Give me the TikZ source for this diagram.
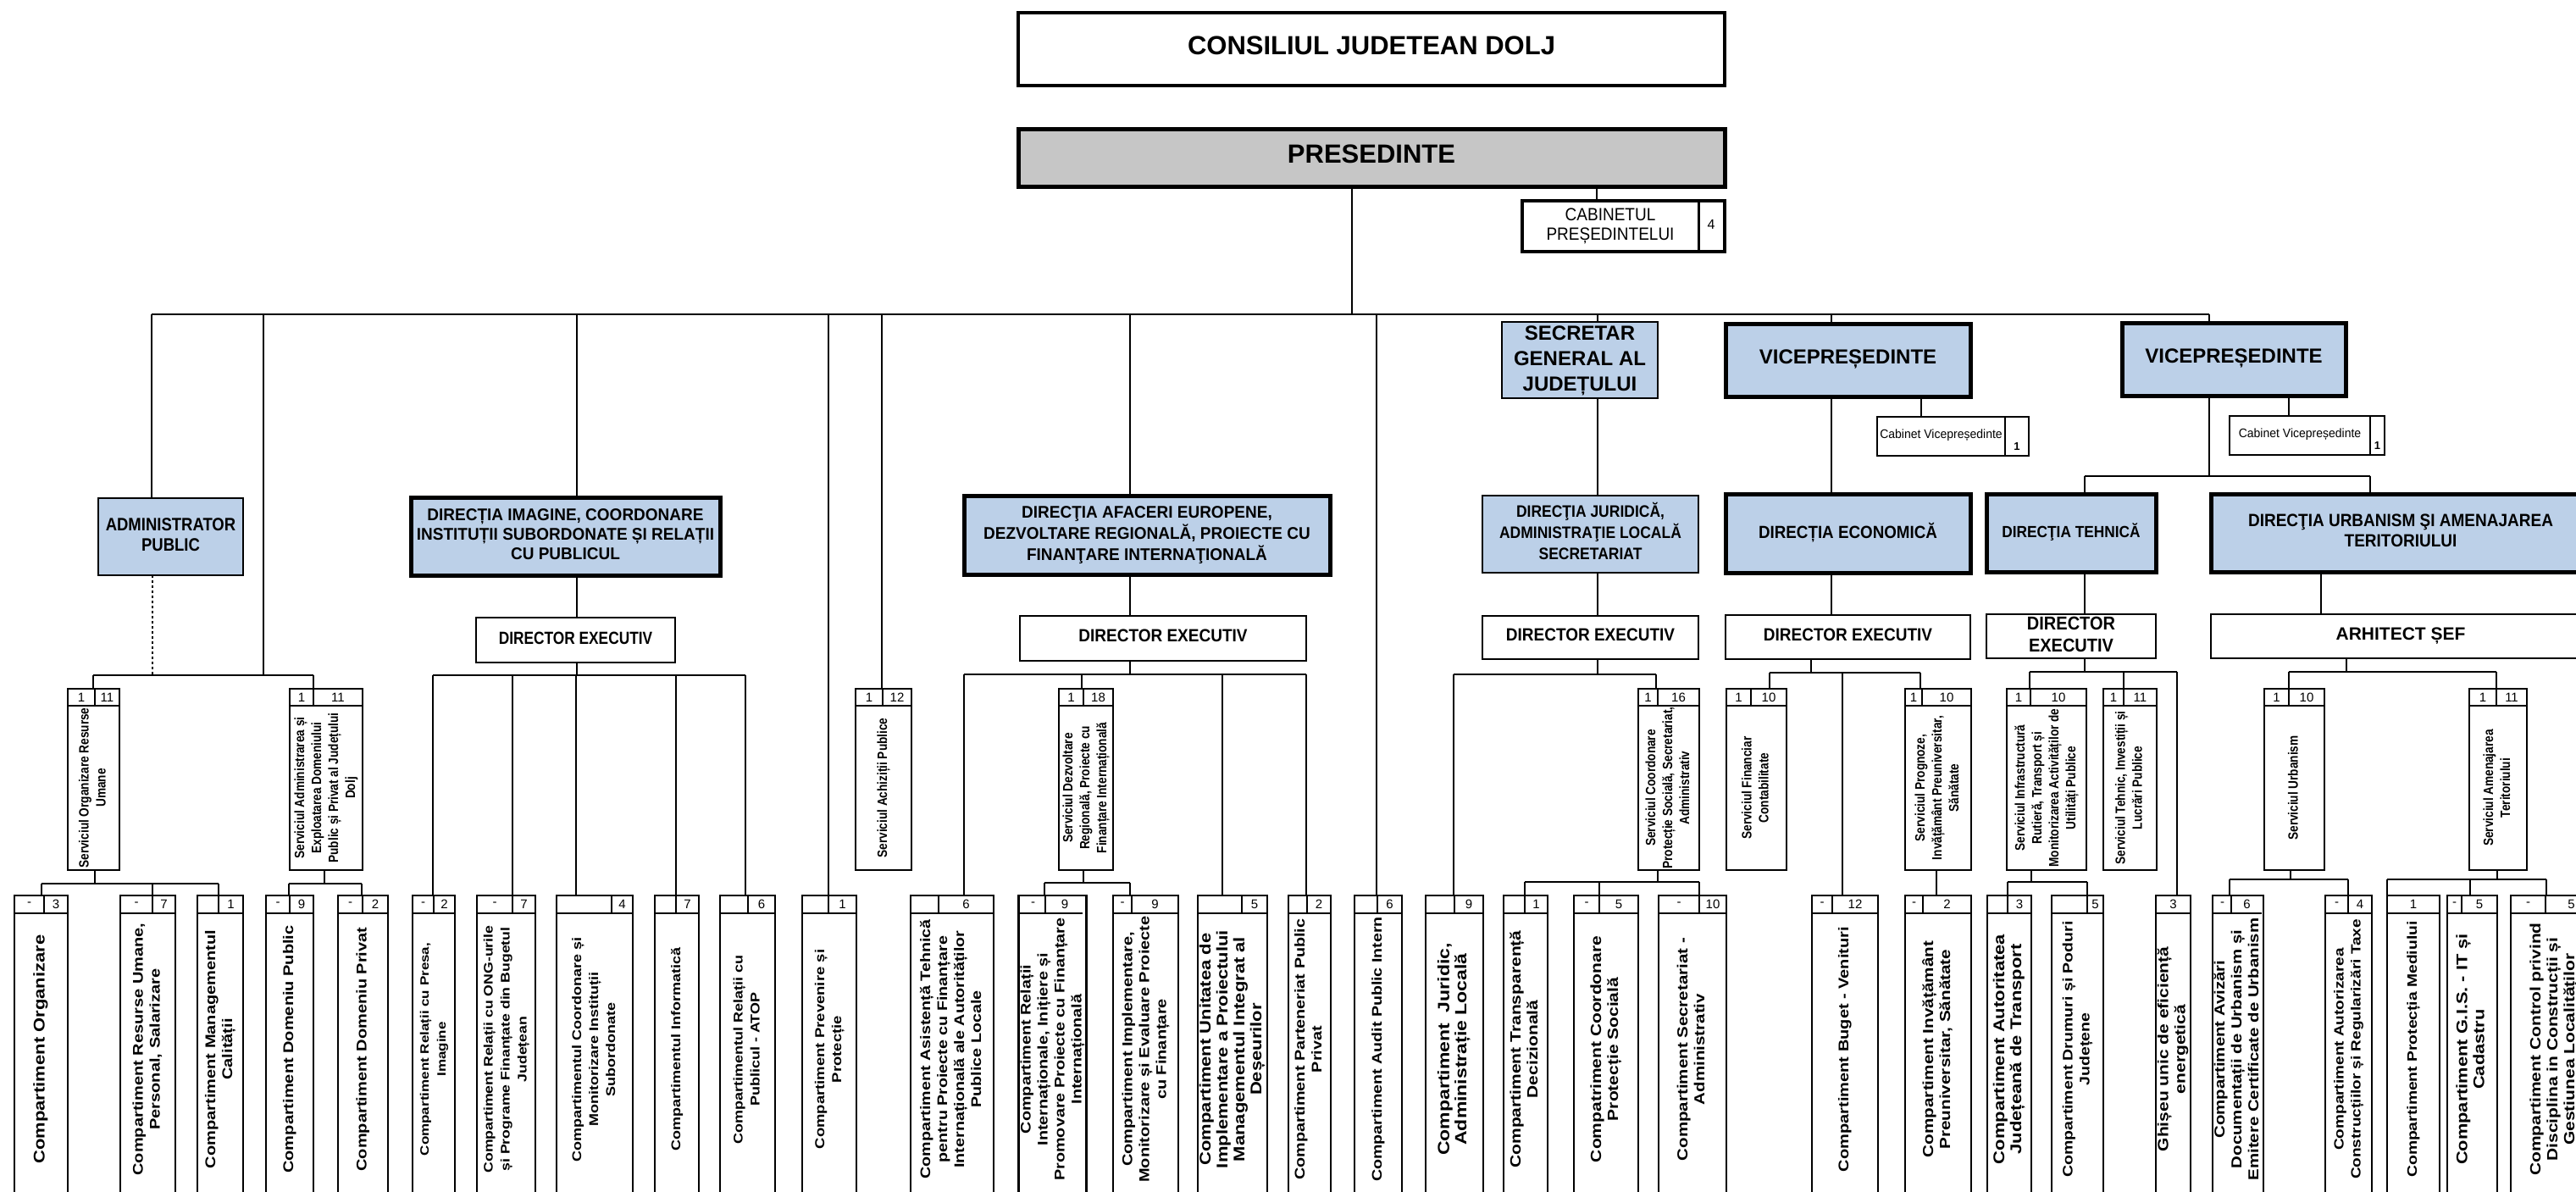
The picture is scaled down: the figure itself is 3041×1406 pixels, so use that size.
\documentclass[tikz,border=0pt]{standalone}
\usepackage{fontspec}
\setmainfont{Liberation Sans}
\usepackage{graphicx}
\definecolor{lblue}{RGB}{188,208,232}
\definecolor{pgray}{RGB}{198,198,198}
% rotated compartment text: font size, text (stretched along its length)
\newcommand\rtx[2]{\rotatebox{90}{\scalebox{1.2}[1]{\fontsize{#1}{20}\selectfont\bfseries\begin{tabular}{@{}c@{}}#2\end{tabular}}}}
% rotated service text (condensed along its length)
\newcommand\stx[1]{\rotatebox{90}{\scalebox{0.85}[1]{\fontsize{16}{20}\selectfont\bfseries\begin{tabular}{@{}c@{}}#1\end{tabular}}}}
% horizontal text: size, skip, vertical stretch, series, text
\newcommand\htx[5]{\scalebox{1}[#3]{\fontsize{#1}{#2}\selectfont#4\begin{tabular}{@{}c@{}}#5\end{tabular}}}
% box by corners: name, x1, y1, x2, y2, style, text
\newcommand\bx[7]{\node[#6, minimum width={(#4-#2)*1pt}, minimum height={(#5-#3)*1pt}] (#1) at ({(#2+#4)/2},{(#3+#5)/2}) {#7};}
% compartment: name, x1, x2, divider x, left, right, font, text
\newcommand\comp[8]{%
  \node[cb, minimum width={(#3-#2)*1pt}, minimum height=363pt] (#1) at ({(#2+#3)/2},1238.5) {\rtx{#7}{#8}};
  \draw[cl] (#1.north west) ++(0,21) -- ++({#3-#2},0);
  \ifx&#4&\node[num] (#1-r) at ({(#2+#3)/2},1067.5) {#6};%
  \else\draw[cl] (#4,1057) -- (#4,1078);
  \node[num] (#1-l) at ({(#2+#4)/2},1067.5) {#5};
  \node[num] (#1-r) at ({(#4+#3)/2},1067.5) {#6};\fi}
% service: name, x1, x2, divider x, left, right, text
\newcommand\serv[7]{%
  \node[cb, minimum width={(#3-#2)*1pt}, minimum height=214pt] (#1) at ({(#2+#3)/2},920) {};
  \draw[cl] (#1.north west) ++(0,20) -- ++({#3-#2},0);
  \draw[cl] (#4,813) -- (#4,833);
  \node[num] (#1-l) at ({(#2+#4)/2},823) {#5};
  \node[num] (#1-r) at ({(#4+#3)/2},823) {#6};
  \node[inner sep=0pt] (#1-t) at ({(#2+#3)/2},930) {\stx{#7}};}
\begin{document}
\begin{tikzpicture}[x=1pt,y=-1pt,
  cl/.style={line width=2pt},
  cb/.style={draw, line width=2.6pt, inner sep=0pt, outer sep=0pt, fill=white},
  tb/.style={draw, line width=5pt, inner sep=0pt, outer sep=0pt, fill=lblue},
  nb/.style={draw, line width=2.6pt, inner sep=0pt, outer sep=0pt, fill=lblue},
  num/.style={inner sep=0pt, font=\fontsize{15}{15}\selectfont}]
\useasboundingbox (0,0) rectangle (3041,1406);
\fill[white] (0,0) rectangle (3041,1406);
\clip (0,0) rectangle (3041,1406);

% ---------- top ----------
\bx{cons}{1202}{15}{2036}{101}{cb, line width=4pt}{\htx{31}{31}{1}{\bfseries}{CONSILIUL JUDETEAN DOLJ}}
\bx{pres}{1202}{152}{2036}{220}{cb, line width=5pt, fill=pgray}{\htx{31}{31}{1}{\bfseries}{PRESEDINTE}}
\bx{cabp}{1797}{237}{2036}{297}{cb, line width=4pt}{}
\draw[line width=3pt] (2005,237) -- (2005,297);
\node[inner sep=0pt] (cabpt) at (1901,267) {\htx{19}{21}{1.1}{\mdseries}{CABINETUL\\PREȘEDINTELUI}};
\node[inner sep=0pt] (cabpn) at (2020,265) {\fontsize{16}{16}\selectfont 4};

% ---------- level 2 ----------
\bx{admin}{116}{588}{287}{679}{nb}{\htx{18.5}{21}{1.15}{\bfseries}{ADMINISTRATOR\\PUBLIC}}
\bx{dimg}{485}{587}{850}{679}{tb}{\htx{19}{22}{1.05}{\bfseries}{DIRECȚIA IMAGINE, COORDONARE\\INSTITUȚII SUBORDONATE ȘI RELAȚII\\CU PUBLICUL}}
\bx{dir1}{562}{729}{797}{782}{cb}{\htx{17.3}{20}{1.2}{\bfseries}{DIRECTOR EXECUTIV}}
\bx{dafa}{1138}{585}{1570}{678}{tb}{\htx{19}{23.5}{1.05}{\bfseries}{DIRECŢIA AFACERI EUROPENE,\\DEZVOLTARE REGIONALĂ, PROIECTE CU\\FINANŢARE INTERNAŢIONALĂ}}
\bx{dir2}{1204}{727}{1542}{780}{cb}{\htx{19}{20}{1.1}{\bfseries}{DIRECTOR EXECUTIV}}
\bx{secr}{1773}{383}{1957}{467}{nb}{\htx{24}{30}{1}{\bfseries}{SECRETAR\\GENERAL AL\\JUDEȚULUI}}
\bx{djur}{1750}{585}{2005}{676}{nb}{\htx{17.5}{22}{1.12}{\bfseries}{DIRECŢIA JURIDICĂ,\\ADMINISTRAŢIE LOCALĂ\\SECRETARIAT}}
\bx{dir3}{1750}{727}{2005}{778}{cb}{\htx{19}{20}{1.1}{\bfseries}{DIRECTOR EXECUTIV}}
\bx{vp1}{2037}{382}{2326}{468}{tb}{\htx{24}{24}{1}{\bfseries}{VICEPREȘEDINTE}}
\bx{cabv1}{2216}{492}{2395}{538}{cb, line width=2.2pt}{}
\draw[line width=2pt] (2367,492) -- (2367,538);
\node[inner sep=0pt] (cabv1t) at (2291.5,514) {\htx{14}{14}{1.05}{\mdseries}{Cabinet Vicepreședinte}};
\node[inner sep=0pt] (cabv1n) at (2381,527) {\fontsize{13}{13}\selectfont\bfseries 1};
\bx{decon}{2037}{583}{2326}{676}{tb}{\htx{18.8}{20}{1.1}{\bfseries}{DIRECȚIA ECONOMICĂ}}
\bx{dir4}{2037}{726}{2326}{778}{cb}{\htx{19}{20}{1.1}{\bfseries}{DIRECTOR EXECUTIV}}
\bx{vp2}{2505}{381}{2769}{467}{tb}{\htx{24}{24}{1}{\bfseries}{VICEPREȘEDINTE}}
\bx{cabv2}{2632}{491}{2815}{537}{cb, line width=2.2pt}{}
\draw[line width=2pt] (2798,491) -- (2798,537);
\node[inner sep=0pt] (cabv2t) at (2715,513) {\htx{14}{14}{1.05}{\mdseries}{Cabinet Vicepreședinte}};
\node[inner sep=0pt] (cabv2n) at (2806.5,526) {\fontsize{13}{13}\selectfont\bfseries 1};
\bx{dteh}{2345}{583}{2545}{675}{tb}{\htx{17.3}{20}{1.1}{\bfseries}{DIRECŢIA TEHNICĂ}}
\bx{durb}{2610}{583}{3058}{675}{tb}{\htx{19}{22}{1.1}{\bfseries}{DIRECŢIA URBANISM ŞI AMENAJAREA\\TERITORIULUI}}
\bx{dir5}{2345}{725}{2545}{777}{cb}{\htx{20}{23.5}{1.1}{\bfseries}{DIRECTOR\\EXECUTIV}}
\bx{arh}{2610}{725}{3058}{777}{cb}{\htx{21}{21}{1}{\bfseries}{ARHITECT ȘEF}}

% ---------- services ----------
\serv{sorg}{80}{141}{112}{1}{11}{Serviciul Organizare Resurse\\Umane}
\serv{sadm}{342}{428}{370}{1}{11}{Serviciul Administrarea și\\Exploatarea Domeniului\\Public și Privat al Județului\\Dolj}
\serv{sach}{1010}{1076}{1042}{1}{12}{Serviciul Achiziții Publice}
\serv{sdez}{1250}{1314}{1279}{1}{18}{Serviciul Dezvoltare\\Regională, Proiecte cu\\Finanțare Internațională}
\serv{scoord}{1934}{2006}{1957}{1}{16}{Serviciul Coordonare\\Protecție Socială, Secretariat,\\Administrativ}
\serv{sfin}{2038}{2109}{2067}{1}{10}{Serviciul Financiar\\Contabilitate}
\serv{sprog}{2249}{2327}{2269}{1}{10}{Serviciul Prognoze,\\Invățământ Preuniversitar,\\Sănătate}
\serv{sinfra}{2369}{2463}{2397}{1}{10}{Serviciul Infrastructură\\Rutieră, Transport și\\Monitorizarea Activităților de\\Utilități Publice}
\serv{steh}{2483}{2546}{2507}{1}{11}{Serviciul Tehnic, Investiții și\\Lucrări Publice}
\serv{surb}{2673}{2744}{2702}{1}{10}{Serviciul Urbanism}
\serv{samen}{2915}{2983}{2947}{1}{11}{Serviciul Amenajarea\\Teritoriului}

% ---------- compartments ----------
\comp{corg}{17}{80}{52}{-}{3}{18.33}{Compartiment Organizare}
\comp{cresum}{142}{207}{180}{-}{7}{16.67}{Compartiment Resurse Umane,\\Personal, Salarizare}
\comp{ccal}{233}{287}{258}{}{1}{16.67}{Compartiment Managementul\\Calității}
\comp{cdpub}{314}{370}{342}{-}{9}{16.67}{Compartiment Domeniu Public}
\comp{cdpriv}{399}{458}{428}{-}{2}{16.67}{Compartiment Domeniu Privat}
\comp{cpresa}{487}{537}{512}{-}{2}{14.17}{Compartiment Relații cu Presa,\\Imagine}
\comp{cong}{563}{632}{605}{-}{7}{14.75}{Compartiment Relații cu ONG-urile\\și Programe Finanțate din Bugetul\\Județean}
\comp{ccoord}{657}{747}{722}{}{4}{15}{Compartimentul Coordonare și\\Monitorizare Instituții\\Subordonate}
\comp{cinfo}{773}{825}{798}{}{7}{15}{Compartimentul Informatică}
\comp{cpubl}{850}{915}{883}{}{6}{15}{Compartimentul Relații cu\\Publicul - ATOP}
\comp{cprev}{947}{1011}{978}{}{1}{15.42}{Compartiment Prevenire și\\Protecție}
\comp{casist}{1075}{1173}{1108}{}{6}{16.42}{Compartiment Asistență Tehnică\\pentru Proiecte cu Finanțare\\Internațională ale Autorităților\\Publice Locale}
\comp{crelint}{1205}{1280}{1234}{-}{9}{16.5}{Compartiment Relații\\Internaționale, Inițiere și\\Promovare Proiecte cu Finanțare\\Internațională}
\comp{cimpl}{1314}{1391}{1336}{-}{9}{16.67}{Compartiment Implementare,\\Monitorizare și Evaluare Proiecte\\cu Finanțare}
\comp{cunit}{1414}{1496}{1466}{}{5}{18.33}{Compartiment Unitatea de\\Implementare a Proiectului\\Managementul Integrat al\\Deșeurilor}
\comp{cppp}{1521}{1571}{1543}{}{2}{16.5}{Compartiment Parteneriat Public\\Privat}
\comp{caudit}{1599}{1655}{1626}{}{6}{16.33}{Compartiment Audit Public Intern}
\comp{cjur}{1683}{1751}{1717}{}{9}{19.17}{Compartiment\ \ Juridic,\\Administrație Locală}
\comp{ctransp}{1775}{1827}{1800}{}{1}{17.5}{Compartiment Transparență\\Decizională}
\comp{ccps}{1858}{1934}{1888}{-}{5}{17.5}{Compatriment Coordonare\\Protecție Socială}
\comp{csecr}{1958}{2038}{2006}{-}{10}{17.08}{Compartiment Secretariat -\\Administrativ}
\comp{cbuget}{2139}{2217}{2163}{-}{12}{16.67}{Compartiment Buget - Venituri}
\comp{cinv}{2249}{2327}{2270}{-}{2}{17.25}{Compartiment Invățământ\\Preuniversitar, Sănătate}
\comp{caut}{2346}{2398}{2370}{}{3}{18.33}{Compartiment Autoritatea\\Județeană de Transport}
\comp{cdrum}{2422}{2483}{2464}{}{5}{16.25}{Compartiment Drumuri și Poduri\\Județene}
\comp{cghis}{2545}{2586}{}{}{3}{17.5}{Ghișeu unic de eficiență\\energetică}
\comp{caviz}{2613}{2671}{2634}{-}{6}{17}{Compartiment Avizări\\Documentații de Urbanism și\\Emitere Certificate de Urbanism}
\comp{cautor}{2745}{2800}{2772}{-}{4}{15.83}{Compartiment Autorizarea\\Construcțiilor și Regularizări Taxe}
\comp{cmed}{2818}{2880}{}{}{1}{16.08}{Compartiment Protecția Mediului}
\comp{cgis}{2889}{2948}{2906}{-}{5}{18.17}{Compartiment G.I.S. - IT și\\Cadastru}
\comp{cctrl}{2964}{3066}{3005}{-}{5}{17.5}{Compartiment Control privind\\Disciplina in Construcții și\\Gestiunea Localităților}

% ---------- connectors ----------
\draw[cl] (pres.south -| 1596,0) -- (1596,371);
\draw[cl] (pres.south -| 1885,0) -- (cabp.north -| 1885,0);
\draw[cl] (179,371) -- (2608,371);
% administrator public and its services
\draw[cl] (179,371) -- (admin.north -| 179,0);
\draw[line width=1.5pt, dash pattern=on 3pt off 3pt] (admin.south -| 180,0) -- (180,797);
\draw[cl] (311,371) -- (311,797);
\draw[cl] (110,797) -- (370,797);
\draw[cl] (110,797) -- (sorg.north -| 110,0);
\draw[cl] (370,797) -- (sadm.north -| 370,0);
\draw[cl] (sorg.south -| 112,0) -- (112,1043);
\draw[cl] (49,1043) -- (258,1043);
\draw[cl] (49,1043) -- (corg.north -| 49,0);
\draw[cl] (180,1043) -- (cresum.north -| 180,0);
\draw[cl] (258,1043) -- (ccal.north -| 258,0);
\draw[cl] (sadm.south -| 383,0) -- (383,1043);
\draw[cl] (341,1043) -- (427,1043);
\draw[cl] (341,1043) -- (cdpub.north -| 341,0);
\draw[cl] (427,1043) -- (cdpriv.north -| 427,0);
% directia imagine
\draw[cl] (681,371) -- (dimg.north -| 681,0);
\draw[cl] (dimg.south -| 681,0) -- (dir1.north -| 681,0);
\draw[cl] (dir1.south -| 681,0) -- (681,797);
\draw[cl] (511,797) -- (880,797);
\draw[cl] (511,797) -- (cpresa.north -| 511,0);
\draw[cl] (605,797) -- (cong.north -| 605,0);
\draw[cl] (680,797) -- (ccoord.north -| 680,0);
\draw[cl] (798,797) -- (cinfo.north -| 798,0);
\draw[cl] (880,797) -- (cpubl.north -| 880,0);
% prevenire, achizitii
\draw[cl] (978,371) -- (cprev.north -| 978,0);
\draw[cl] (1041,371) -- (sach.north -| 1041,0);
% directia afaceri europene
\draw[cl] (1334,371) -- (dafa.north -| 1334,0);
\draw[cl] (dafa.south -| 1334,0) -- (dir2.north -| 1334,0);
\draw[cl] (dir2.south -| 1334,0) -- (1334,796);
\draw[cl] (1138,796) -- (1542,796);
\draw[cl] (1138,796) -- (casist.north -| 1138,0);
\draw[cl] (1277,796) -- (sdez.north -| 1277,0);
\draw[cl] (1443,796) -- (cunit.north -| 1443,0);
\draw[cl] (1542,796) -- (cppp.north -| 1542,0);
\draw[cl] (sdez.south -| 1279,0) -- (1279,1042);
\draw[cl] (1233,1042) -- (1334,1042);
\draw[cl] (1233,1042) -- (crelint.north -| 1233,0);
\draw[cl] (1334,1042) -- (cimpl.north -| 1334,0);
% audit
\draw[cl] (1625,371) -- (caudit.north -| 1625,0);
% secretar general
\draw[cl] (1886,371) -- (secr.north -| 1886,0);
\draw[cl] (secr.south -| 1886,0) -- (djur.north -| 1886,0);
\draw[cl] (djur.south -| 1886,0) -- (dir3.north -| 1886,0);
\draw[cl] (dir3.south -| 1886,0) -- (1886,796);
\draw[cl] (1716,796) -- (1955,796);
\draw[cl] (1716,796) -- (cjur.north -| 1716,0);
\draw[cl] (1955,796) -- (scoord.north -| 1955,0);
\draw[cl] (scoord.south -| 1957,0) -- (1957,1041);
\draw[cl] (1800,1041) -- (2006,1041);
\draw[cl] (1800,1041) -- (ctransp.north -| 1800,0);
\draw[cl] (1888,1041) -- (ccps.north -| 1888,0);
\draw[cl] (2006,1041) -- (csecr.north -| 2006,0);
% vicepresedinte 1
\draw[cl] (2162,371) -- (vp1.north -| 2162,0);
\draw[cl] (vp1.south -| 2268,0) -- (cabv1.north -| 2268,0);
\draw[cl] (vp1.south -| 2162,0) -- (decon.north -| 2162,0);
\draw[cl] (decon.south -| 2162,0) -- (dir4.north -| 2162,0);
\draw[cl] (dir4.south -| 2138,0) -- (2138,794);
\draw[cl] (2089,794) -- (2267,794);
\draw[cl] (2089,794) -- (sfin.north -| 2089,0);
\draw[cl] (2175,794) -- (cbuget.north -| 2175,0);
\draw[cl] (2267,794) -- (sprog.north -| 2267,0);
\draw[cl] (sprog.south -| 2286,0) -- (cinv.north -| 2286,0);
% vicepresedinte 2
\draw[cl] (2608,371) -- (vp2.north -| 2608,0);
\draw[cl] (vp2.south -| 2702,0) -- (cabv2.north -| 2702,0);
\draw[cl] (vp2.south -| 2608,0) -- (2608,562);
\draw[cl] (2461,562) -- (2798,562);
\draw[cl] (2461,562) -- (dteh.north -| 2461,0);
\draw[cl] (2798,562) -- (durb.north -| 2798,0);
\draw[cl] (dteh.south -| 2461,0) -- (dir5.north -| 2461,0);
\draw[cl] (dir5.south -| 2461,0) -- (2461,793);
\draw[cl] (2396,793) -- (2570,793);
\draw[cl] (2396,793) -- (sinfra.north -| 2396,0);
\draw[cl] (2507,793) -- (steh.north -| 2507,0);
\draw[cl] (2570,793) -- (cghis.north -| 2570,0);
\draw[cl] (sinfra.south -| 2398,0) -- (2398,1041);
\draw[cl] (2370,1041) -- (2464,1041);
\draw[cl] (2370,1041) -- (caut.north -| 2370,0);
\draw[cl] (2464,1041) -- (cdrum.north -| 2464,0);
\draw[cl] (durb.south -| 2740,0) -- (arh.north -| 2740,0);
\draw[cl] (arh.south -| 2770,0) -- (2770,793);
\draw[cl] (2702,793) -- (2947,793);
\draw[cl] (2702,793) -- (surb.north -| 2702,0);
\draw[cl] (2947,793) -- (samen.north -| 2947,0);
\draw[cl] (surb.south -| 2704,0) -- (2704,1038);
\draw[cl] (2632,1038) -- (2772,1038);
\draw[cl] (2632,1038) -- (caviz.north -| 2632,0);
\draw[cl] (2772,1038) -- (cautor.north -| 2772,0);
\draw[cl] (samen.south -| 2948,0) -- (2948,1038);
\draw[cl] (2818,1038) -- (3006,1038);
\draw[cl] (2818,1038) -- (cmed.north -| 2818,0);
\draw[cl] (2916,1038) -- (cgis.north -| 2916,0);
\draw[cl] (3006,1038) -- (cctrl.north -| 3006,0);
\end{tikzpicture}
\end{document}
